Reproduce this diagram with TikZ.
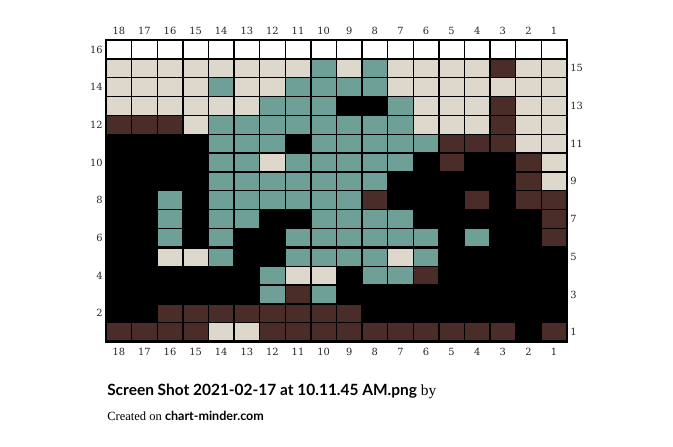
\documentclass[tikz,border=0pt]{standalone}
\usepackage{fontspec}
\setmainfont{Liberation Serif}
\newfontfamily\axisfont{DejaVu Serif}
\newfontfamily\titlefont{Lato}
\definecolor{cW}{HTML}{FFFFFF}
\definecolor{cC}{HTML}{DDD8CB}
\definecolor{cT}{HTML}{6FA098}
\definecolor{cB}{HTML}{4A2C28}
\definecolor{cK}{HTML}{000000}
\tikzset{
  thinline/.style={line width=0.9pt, black},
  thickline/.style={line width=1.8pt, black},
  axislabel/.style={font=\axisfont\fontsize{7.4}{8}\selectfont, inner sep=0pt, text=black!85},
}
\begin{document}
\begin{tikzpicture}[x=0.75pt,y=-0.75pt]
\useasboundingbox (0,0) rectangle (673,446);
\def\cw{25.6}
\def\ch{18.85}
% cells
\foreach \r/\cells in {
16/{W,W,W,W,W,W,W,W,W,W,W,W,W,W,W,W,W,W},
15/{C,C,C,C,C,C,C,C,T,C,T,C,C,C,C,B,C,C},
14/{C,C,C,C,T,C,C,T,T,T,T,C,C,C,C,C,C,C},
13/{C,C,C,C,C,C,T,T,T,K,K,T,C,C,C,B,C,C},
12/{B,B,B,C,T,T,T,T,T,T,T,T,C,C,C,B,C,C},
11/{K,K,K,K,T,T,T,K,T,T,T,T,T,B,B,B,C,C},
10/{K,K,K,K,T,T,C,T,T,T,T,T,K,B,K,K,B,C},
9/{K,K,K,K,T,T,T,T,T,T,T,K,K,K,K,K,B,C},
8/{K,K,T,K,T,T,T,T,T,T,B,K,K,K,B,K,B,B},
7/{K,K,T,K,T,T,K,K,T,T,T,T,K,K,K,K,K,B},
6/{K,K,T,K,T,K,K,T,T,T,T,T,T,K,T,K,K,B},
5/{K,K,C,C,T,K,K,T,T,T,T,C,T,K,K,K,K,K},
4/{K,K,K,K,K,K,T,C,C,K,T,T,B,K,K,K,K,K},
3/{K,K,K,K,K,K,T,B,T,K,K,K,K,K,K,K,K,K},
2/{K,K,B,B,B,B,B,B,B,B,K,K,K,K,K,K,K,K},
1/{B,B,B,B,C,C,B,B,B,B,B,B,B,B,B,B,K,B}} {
  \foreach \c [count=\i from 0] in \cells {
    \fill[c\c] ({106+\i*\cw},{40+(16-\r)*\ch}) rectangle ++(\cw,\ch);
  }
}
% thin grid lines
\foreach \i in {1,...,17} {
  \draw[thinline] ({106+\i*\cw},40) -- ({106+\i*\cw},{40+16*\ch});
}
\foreach \j in {1,...,15} {
  \draw[thinline] (106,{40+\j*\ch}) -- ({106+18*\cw},{40+\j*\ch});
}
% thick grid lines
\foreach \i in {3,8,13} {
  \draw[thickline] ({106+\i*\cw},40) -- ({106+\i*\cw},{40+16*\ch});
}
\foreach \j in {1,6,11} {
  \draw[thickline] (106,{40+\j*\ch}) -- ({106+18*\cw},{40+\j*\ch});
}
\draw[thickline] (106,40) rectangle ({106+18*\cw},{40+16*\ch});
% column labels
\foreach \n [count=\i from 0] in {18,17,16,15,14,13,12,11,10,9,8,7,6,5,4,3,2,1} {
  \node[axislabel] (top\n) at ({106+(\i+0.5)*\cw},30.5) {\n};
  \node[axislabel] (bot\n) at ({106+(\i+0.5)*\cw},352) {\n};
}
% row labels
\foreach \r in {16,14,12,10,8,6,4,2} {
  \node[axislabel, anchor=east] (rowl\r) at (103,{40+(16.5-\r)*\ch}) {\r};
}
\foreach \r in {15,13,11,9,7,5,3,1} {
  \node[axislabel, anchor=west] (rowr\r) at (570,{40+(16.5-\r)*\ch}) {\r};
}
% title
\node[anchor=base west, inner sep=0pt] (title) at (107,395) {\fontsize{11.6}{13}\selectfont{\titlefont\bfseries Screen Shot 2021-02-17 at 10.11.45 AM.png} by};
\node[anchor=base west, inner sep=0pt] (credit) at (107,420) {\fontsize{9.4}{11}\selectfont Created on {\titlefont\bfseries chart-minder.com}};
\end{tikzpicture}
\end{document}
